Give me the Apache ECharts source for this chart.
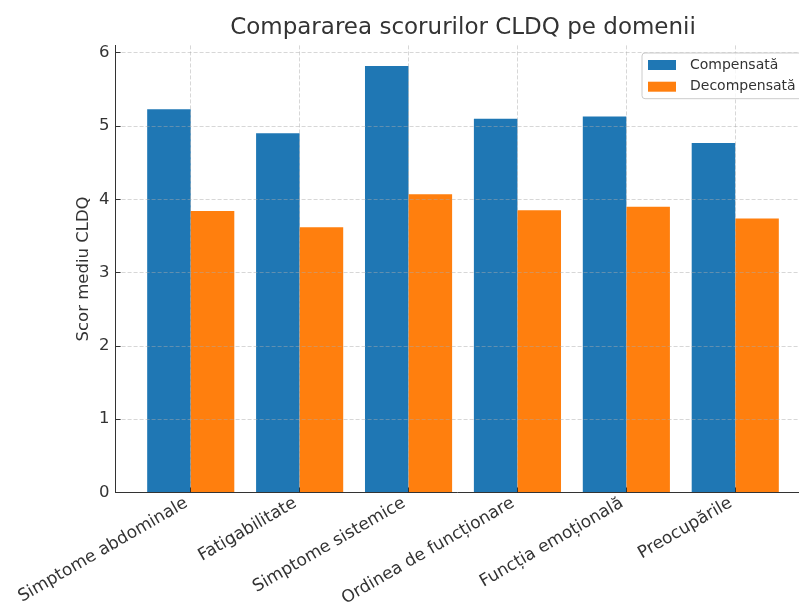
<!DOCTYPE html>
<html>
<head>
<meta charset="utf-8">
<script src="https://cdn.jsdelivr.net/npm/echarts@6/dist/echarts.min.js"></script>
<style>
html,body{margin:0;padding:0;background:#fff;}
#chart{width:799px;height:607px;}
</style>
</head>
<body>
<div id="chart"></div>
<script>
var categories = ['Simptome abdominale', 'Fatigabilitate', 'Simptome sistemice', 'Ordinea de funcționare', 'Funcția emoțională', 'Preocupările'];
var compensata = [5.23, 4.90, 5.82, 5.10, 5.13, 4.77];
var decompensata = [3.84, 3.62, 4.07, 3.85, 3.90, 3.74];
var yTicks = [0, 1, 2, 3, 4, 5, 6];
var xTicks = [0, 1, 2, 3, 4, 5];

var FONT = 'DejaVu Sans';
var chart = echarts.init(document.getElementById('chart'), null, {renderer: 'canvas'});

function pairs(arr) { return arr.map(function (v, i) { return [i, v]; }); }

var gridLine = {show: true, lineStyle: {color: 'rgba(170,170,170,0.6)', type: [4, 2], width: 0.8}};

chart.setOption({
  animation: false,
  backgroundColor: '#ffffff',
  textStyle: {fontFamily: FONT},
  title: {
    text: 'Compararea scorurilor CLDQ pe domenii',
    left: 458,
    textAlign: 'center',
    top: 12,
    textStyle: {fontFamily: FONT, fontSize: 23, fontWeight: 'normal', color: '#333333'}
  },
  legend: {
    orient: 'vertical',
    left: 642,
    top: 53,
    padding: [5, 8, 5, 6],
    itemWidth: 28,
    itemHeight: 10,
    itemGap: 7.7,
    icon: 'rect',
    borderColor: '#cccccc',
    borderWidth: 1,
    borderRadius: 3,
    backgroundColor: 'rgba(255,255,255,0.8)',
    textStyle: {fontFamily: FONT, fontSize: 14, color: '#333333', lineHeight: 14, padding: [0, 0, 0, 9]},
    data: ['Compensată', 'Decompensată']
  },
  grid: {
    left: 115.6,
    right: -11.4,
    top: 45.4,
    bottom: 114.5,
    containLabel: false,
    outerBoundsMode: 'none'
  },
  xAxis: {
    type: 'value',
    min: -0.69,
    max: 5.69,
    z: 3,
    axisLine: {show: true, onZero: false, lineStyle: {color: '#333333', width: 1}},
    axisTick: {show: true, inside: true, length: 5, customValues: xTicks, lineStyle: {color: '#333333'}},
    axisLabel: {
      customValues: xTicks,
      rotate: 30,
      margin: 7,
      padding: [0, 5, 0, 0],
      fontFamily: FONT,
      fontSize: 17,
      color: '#333333',
      formatter: function (v) { return categories[Math.round(v)]; }
    },
    splitLine: gridLine
  },
  yAxis: {
    type: 'value',
    min: 0,
    max: 6.1,
    z: 3,
    name: 'Scor mediu CLDQ',
    nameLocation: 'middle',
    nameGap: 23,
    nameMoveOverlap: false,
    nameTextStyle: {fontFamily: FONT, fontSize: 16.5, color: '#333333'},
    axisLine: {show: true, onZero: false, lineStyle: {color: '#333333', width: 1}},
    axisTick: {show: true, inside: true, length: 5, customValues: yTicks, lineStyle: {color: '#333333'}},
    axisLabel: {customValues: yTicks, margin: 6, fontFamily: FONT, fontSize: 16.5, color: '#333333'},
    splitLine: gridLine
  },
  series: [
    {
      name: 'Compensată',
      type: 'bar',
      barWidth: '40%',
      barGap: '0%',
      itemStyle: {color: '#1f77b4'},
      data: pairs(compensata)
    },
    {
      name: 'Decompensată',
      type: 'bar',
      barWidth: '40%',
      barGap: '0%',
      itemStyle: {color: '#ff7f0e'},
      data: pairs(decompensata)
    }
  ]
});
</script>
</body>
</html>
